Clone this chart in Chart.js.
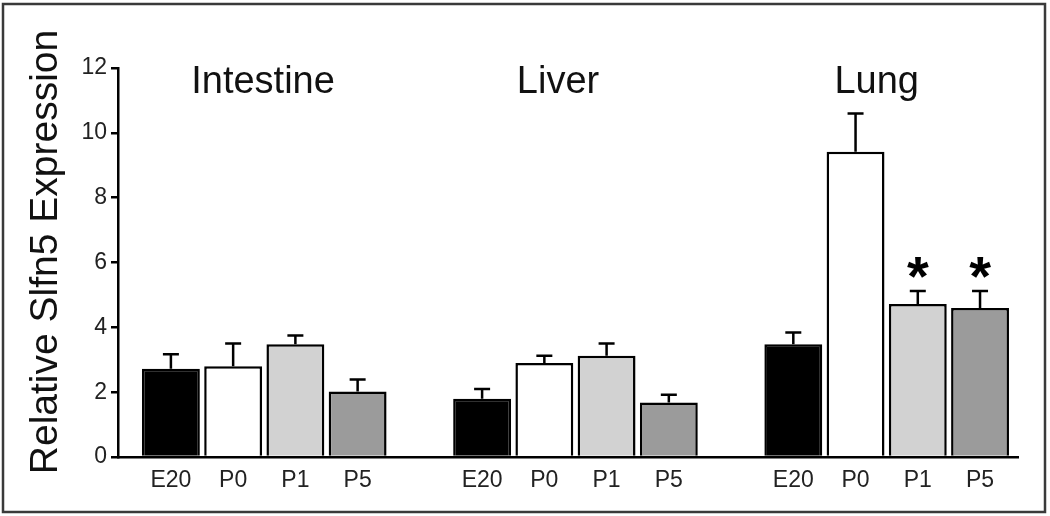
<!DOCTYPE html>
<html>
<head>
<meta charset="utf-8">
<script src="https://cdn.jsdelivr.net/npm/chart.js@4/dist/chart.umd.min.js"></script>
<style>
  html, body { margin: 0; padding: 0; background: #fff; }
  #wrap { width: 1050px; height: 516px; }
</style>
</head>
<body>
<div id="wrap"><canvas id="myChart" width="1050" height="516"></canvas></div>
<script>
// data
const tissues = ['Intestine', 'Liver', 'Lung'];
const stages = ['E20', 'P0', 'P1', 'P5'];
const intestine = [2.72, 2.8, 3.48, 2.02];
const intestineErr = [0.45, 0.7, 0.27, 0.37];
const liver = [1.8, 2.9, 3.12, 1.68];
const liverErr = [0.3, 0.22, 0.38, 0.24];
const lung = [3.48, 9.42, 4.72, 4.6];
const lungErr = [0.36, 1.18, 0.4, 0.52];
const lungStars = [false, false, true, true];
const yTicks = [0, 2, 4, 6, 8, 10, 12];

const stageColors = ['#000000', '#ffffff', '#d2d2d2', '#9b9b9b'];
const font = 'Liberation Sans, Arial, sans-serif';

const groups = [intestine, liver, lung];
const groupErr = [intestineErr, liverErr, lungErr];

// one empty slot between tissues
const points = [], errs = [], labels = [], colors = [], stars = [];
groups.forEach(function (vals, g) {
    vals.forEach(function (v, i) {
        points.push({ x: g * 5 + i, y: v });
        errs.push(groupErr[g][i]);
        labels.push(stages[i]);
        colors.push(stageColors[i]);
        stars.push(g === 2 && lungStars[i]);
    });
});
const tickPos = points.map(p => p.x);

const extras = {
    id: 'extras',
    beforeDraw(chart) {
        const ctx = chart.ctx;
        ctx.save();
        ctx.fillStyle = '#fff';
        ctx.fillRect(0, 0, chart.width, chart.height);
        ctx.strokeStyle = '#3a3a3a';
        ctx.lineWidth = 2.5;
        ctx.strokeRect(3, 4, 1042, 508);
        ctx.restore();
    },
    afterDatasetsDraw(chart) {
        const ctx = chart.ctx;
        const y = chart.scales.y, x = chart.scales.x;
        const bars = chart.getDatasetMeta(0).data;
        ctx.save();
        ctx.strokeStyle = '#000';
        ctx.lineWidth = 2.5;
        bars.forEach(function (bar, i) {
            const top = y.getPixelForValue(points[i].y + errs[i]);
            ctx.beginPath();
            ctx.moveTo(bar.x, bar.y);
            ctx.lineTo(bar.x, top);
            ctx.moveTo(bar.x - 8, top);
            ctx.lineTo(bar.x + 8, top);
            ctx.stroke();
            if (stars[i]) {
                ctx.fillStyle = '#000';
                ctx.font = 'bold 56px ' + font;
                ctx.textAlign = 'center';
                ctx.textBaseline = 'alphabetic';
                ctx.fillText('*', bar.x, top + 4);
            }
        });
        // tissue titles
        const titleX = [1.48, 6.22, 11.34];
        ctx.fillStyle = '#111';
        ctx.font = '38px ' + font;
        ctx.textAlign = 'center';
        ctx.textBaseline = 'alphabetic';
        tissues.forEach(function (t, g) {
            ctx.fillText(t, x.getPixelForValue(titleX[g]), 93);
        });
        // y axis title
        ctx.translate(57, 252);
        ctx.rotate(-Math.PI / 2);
        ctx.font = '39px ' + font;
        ctx.fillText('Relative Slfn5 Expression', 0, 0);
        ctx.restore();
    }
};

var ctx = document.getElementById('myChart');
var myChart = new Chart(ctx, {
    type: 'bar',
    data: {
        datasets: [{
            data: points,
            backgroundColor: colors,
            borderColor: '#000',
            borderWidth: 2.5,
            borderSkipped: 'bottom',
            barPercentage: 0.93,
            categoryPercentage: 1.0
        }]
    },
    options: {
        responsive: false,
        animation: false,
        layout: { padding: { top: 68, right: 32, left: 0, bottom: 0 } },
        plugins: { legend: { display: false }, tooltip: { enabled: false } },
        scales: {
            x: {
                type: 'linear',
                min: -0.85,
                max: 13.61,
                offset: false,
                afterBuildTicks: function (s) { s.ticks = tickPos.map(v => ({ value: v })); },
                afterFit: function (s) { s.height = 59; },
                grid: { display: false },
                border: { display: true, color: '#000', width: 2.5 },
                ticks: {
                    autoSkip: false,
                    maxRotation: 0,
                    padding: 2,
                    color: '#222',
                    font: { family: font, size: 23 },
                    callback: function (v, i) { return labels[i]; }
                }
            },
            y: {
                min: 0,
                max: 12,
                afterBuildTicks: function (s) { s.ticks = yTicks.map(v => ({ value: v })); },
                afterFit: function (s) { s.width = 118; },
                grid: { drawOnChartArea: false, color: '#000', tickColor: '#000', tickLength: 7, lineWidth: 2.5 },
                border: { display: true, color: '#000', width: 2.5 },
                ticks: {
                    padding: 4,
                    color: '#222',
                    font: { family: font, size: 23 }
                }
            }
        }
    },
    plugins: [extras]
});
</script>
</body>
</html>
